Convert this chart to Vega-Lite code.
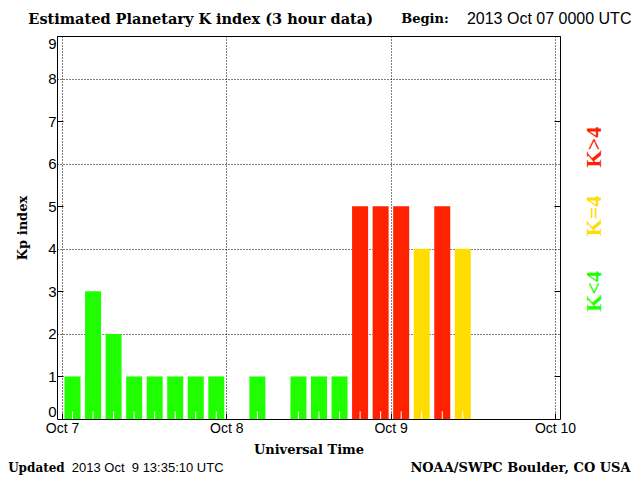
{
  "$schema": "https://vega.github.io/schema/vega-lite/v6.json",
  "width": 503,
  "height": 383,
  "autosize": {"type": "none"},
  "padding": {"left": 57, "top": 36, "right": 80, "bottom": 61},
  "background": "white",
  "config": {
    "view": {"stroke": "black", "strokeWidth": 1},
    "axis": {
      "domain": false,
      "labelFont": "Liberation Sans",
      "labelColor": "black",
      "tickColor": "black",
      "titleFont": "DejaVu Serif",
      "titleFontWeight": "bold",
      "titleFontSize": 13,
      "titleColor": "black"
    }
  },
  "datasets": {
    "kp": [
      {"time": "2013-10-07T00:00:00Z", "kp": 1},
      {"time": "2013-10-07T03:00:00Z", "kp": 3},
      {"time": "2013-10-07T06:00:00Z", "kp": 2},
      {"time": "2013-10-07T09:00:00Z", "kp": 1},
      {"time": "2013-10-07T12:00:00Z", "kp": 1},
      {"time": "2013-10-07T15:00:00Z", "kp": 1},
      {"time": "2013-10-07T18:00:00Z", "kp": 1},
      {"time": "2013-10-07T21:00:00Z", "kp": 1},
      {"time": "2013-10-08T00:00:00Z", "kp": 0},
      {"time": "2013-10-08T03:00:00Z", "kp": 1},
      {"time": "2013-10-08T06:00:00Z", "kp": 0},
      {"time": "2013-10-08T09:00:00Z", "kp": 1},
      {"time": "2013-10-08T12:00:00Z", "kp": 1},
      {"time": "2013-10-08T15:00:00Z", "kp": 1},
      {"time": "2013-10-08T18:00:00Z", "kp": 5},
      {"time": "2013-10-08T21:00:00Z", "kp": 5},
      {"time": "2013-10-09T00:00:00Z", "kp": 5},
      {"time": "2013-10-09T03:00:00Z", "kp": 4},
      {"time": "2013-10-09T06:00:00Z", "kp": 5},
      {"time": "2013-10-09T09:00:00Z", "kp": 4}
    ]
  },
  "layer": [
    {
      "data": {"name": "kp"},
      "mark": {"type": "bar", "width": 16, "xOffset": 10.5},
      "encoding": {
        "x": {
          "field": "time",
          "type": "temporal",
          "scale": {
            "type": "utc",
            "domain": [
              {"year": 2013, "month": 10, "date": 7, "utc": true},
              {"year": 2013, "month": 10, "date": 10, "utc": true}
            ]
          },
          "axis": {
            "title": "Universal Time",
            "titlePadding": 8,
            "values": [
              {"year": 2013, "month": 10, "date": 7, "utc": true},
              {"year": 2013, "month": 10, "date": 8, "utc": true},
              {"year": 2013, "month": 10, "date": 9, "utc": true},
              {"year": 2013, "month": 10, "date": 10, "utc": true}
            ],
            "labelExpr": "utcFormat(datum.value, '%b %-d')",
            "labelFontSize": 14,
            "labelPadding": 8,
            "tickSize": -6,
            "grid": true,
            "gridColor": "black",
            "gridDash": [1, 2],
            "labelFlush": false
          }
        },
        "y": {
          "field": "kp",
          "type": "quantitative",
          "scale": {"domain": [0, 9], "nice": false},
          "axis": {
            "orient": "left",
            "title": "Kp index",
            "titlePadding": 18,
            "values": [0, 1, 2, 3, 4, 5, 6, 7, 8, 9],
            "labelFontSize": 15,
            "labelPadding": 7,
            "labelFlush": true,
            "tickSize": -6,
            "tickOpacity": {"condition": {"test": "datum.value % 2 == 1", "value": 1}, "value": 0},
            "grid": true,
            "gridColor": "black",
            "gridDash": [1, 2],
            "gridOpacity": {"condition": {"test": "datum.value % 2 == 0 && datum.value > 0 && datum.value < 9", "value": 1}, "value": 0}
          }
        },
        "color": {
          "condition": [
            {"test": "datum.kp > 4", "value": "#ff2200"},
            {"test": "datum.kp == 4", "value": "#ffdd00"}
          ],
          "value": "#20ff00"
        }
      }
    },
    {
      "data": {"name": "kp"},
      "mark": {"type": "rule", "color": "white", "strokeWidth": 1, "xOffset": 10.5},
      "encoding": {
        "x": {"field": "time", "type": "temporal", "axis": null},
        "y": {
          "datum": 0,
          "type": "quantitative",
          "scale": {"domain": [0, 9], "nice": false},
          "axis": {
            "orient": "right",
            "title": null,
            "labels": false,
            "values": [0, 1, 2, 3, 4, 5, 6, 7, 8, 9],
            "tickSize": -6,
            "tickOpacity": {"condition": {"test": "datum.value % 2 == 1", "value": 1}, "value": 0},
            "grid": false
          }
        },
        "y2": {"datum": 0.18}
      }
    },
    {
      "data": {"values": [{"t": "Estimated Planetary K index (3 hour data)"}]},
      "mark": {"type": "text", "align": "left", "baseline": "middle", "font": "DejaVu Serif", "fontWeight": "bold", "fontSize": 14.5, "color": "black"},
      "encoding": {
        "text": {"field": "t"},
        "x": {"datum": {"year": 2013, "month": 10, "date": 6, "hours": 19, "minutes": 5, "utc": true}, "type": "temporal", "axis": null},
        "y": {"datum": 9.37, "type": "quantitative", "axis": null}
      }
    },
    {
      "data": {"values": [{"t": "Begin:"}]},
      "mark": {"type": "text", "align": "left", "baseline": "middle", "font": "DejaVu Serif", "fontWeight": "bold", "fontSize": 13, "color": "black"},
      "encoding": {
        "text": {"field": "t"},
        "x": {"datum": {"year": 2013, "month": 10, "date": 9, "hours": 1, "minutes": 32, "utc": true}, "type": "temporal", "axis": null},
        "y": {"datum": 9.4, "type": "quantitative", "axis": null}
      }
    },
    {
      "data": {"values": [{"t": "2013 Oct 07 0000 UTC"}]},
      "mark": {"type": "text", "align": "right", "baseline": "middle", "font": "Liberation Sans", "fontSize": 16, "color": "black"},
      "encoding": {
        "text": {"field": "t"},
        "x": {"datum": {"year": 2013, "month": 10, "date": 10, "hours": 11, "minutes": 10, "utc": true}, "type": "temporal", "axis": null},
        "y": {"datum": 9.4, "type": "quantitative", "axis": null}
      }
    },
    {
      "data": {"values": [{"t": "K>4"}]},
      "mark": {"type": "text", "align": "center", "baseline": "middle", "angle": 270, "font": "Liberation Serif", "fontWeight": "bold", "fontSize": 22, "color": "#ff2200"},
      "encoding": {
        "text": {"field": "t"},
        "x": {"datum": {"year": 2013, "month": 10, "date": 10, "hours": 5, "minutes": 44, "utc": true}, "type": "temporal", "axis": null},
        "y": {"datum": 6.39, "type": "quantitative", "axis": null}
      }
    },
    {
      "data": {"values": [{"t": "K=4"}]},
      "mark": {"type": "text", "align": "center", "baseline": "middle", "angle": 270, "font": "Liberation Serif", "fontWeight": "bold", "fontSize": 22, "color": "#ffdd00"},
      "encoding": {
        "text": {"field": "t"},
        "x": {"datum": {"year": 2013, "month": 10, "date": 10, "hours": 5, "minutes": 44, "utc": true}, "type": "temporal", "axis": null},
        "y": {"datum": 4.77, "type": "quantitative", "axis": null}
      }
    },
    {
      "data": {"values": [{"t": "K<4"}]},
      "mark": {"type": "text", "align": "center", "baseline": "middle", "angle": 270, "font": "Liberation Serif", "fontWeight": "bold", "fontSize": 22, "color": "#20ff00"},
      "encoding": {
        "text": {"field": "t"},
        "x": {"datum": {"year": 2013, "month": 10, "date": 10, "hours": 5, "minutes": 44, "utc": true}, "type": "temporal", "axis": null},
        "y": {"datum": 3.0, "type": "quantitative", "axis": null}
      }
    },
    {
      "data": {"values": [{"t": "Updated"}]},
      "mark": {"type": "text", "align": "left", "baseline": "middle", "font": "DejaVu Serif", "fontWeight": "bold", "fontSize": 12, "color": "black"},
      "encoding": {
        "text": {"field": "t"},
        "x": {"datum": {"year": 2013, "month": 10, "date": 6, "hours": 16, "minutes": 8, "utc": true}, "type": "temporal", "axis": null},
        "y": {"datum": -1.14, "type": "quantitative", "axis": null}
      }
    },
    {
      "data": {"values": [{"t": "2013 Oct \u00a09 13:35:10 UTC"}]},
      "mark": {"type": "text", "align": "left", "baseline": "middle", "font": "Liberation Sans", "fontSize": 13, "color": "black"},
      "encoding": {
        "text": {"field": "t"},
        "x": {"datum": {"year": 2013, "month": 10, "date": 7, "hours": 1, "minutes": 26, "utc": true}, "type": "temporal", "axis": null},
        "y": {"datum": -1.14, "type": "quantitative", "axis": null}
      }
    },
    {
      "data": {"values": [{"t": "NOAA/SWPC Boulder, CO USA"}]},
      "mark": {"type": "text", "align": "right", "baseline": "middle", "font": "DejaVu Serif", "fontWeight": "bold", "fontSize": 13, "color": "black"},
      "encoding": {
        "text": {"field": "t"},
        "x": {"datum": {"year": 2013, "month": 10, "date": 10, "hours": 11, "minutes": 2, "utc": true}, "type": "temporal", "axis": null},
        "y": {"datum": -1.14, "type": "quantitative", "axis": null}
      }
    }
  ],
  "resolve": {"axis": {"x": "independent", "y": "independent"}}
}
